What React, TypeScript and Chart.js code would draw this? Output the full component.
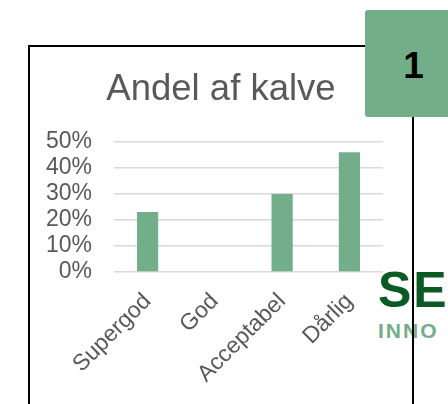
import React, { useEffect, useRef } from "react";
import { Chart, registerables } from "chart.js";

Chart.register(...registerables);

const categories = ["Supergod", "God", "Acceptabel", "Dårlig"];
const shares = [23, 0, 30, 46];
const yTicks = [0, 10, 20, 30, 40, 50];
const chartTitle = "Andel af kalve";
const badgeText = "1";
const logoTop = "SEG";
const logoBottom = "INNO";

const GREEN = "rgb(113,174,137)";
const GRAY_TEXT = "#595959";
const FONT = "Arial, 'Liberation Sans', sans-serif";

export default function App() {
  const canvasRef = useRef<HTMLCanvasElement | null>(null);

  useEffect(() => {
    const canvas = canvasRef.current;
    if (!canvas) return;
    const chart = new Chart(canvas, {
      type: "bar",
      data: {
        labels: categories,
        datasets: [
          {
            data: shares,
            backgroundColor: GREEN,
            borderWidth: 0,
            barPercentage: 0.9,
            categoryPercentage: 0.35,
          },
        ],
      },
      options: {
        animation: false,
        responsive: false,
        maintainAspectRatio: false,
        layout: { padding: 0 },
        plugins: {
          legend: { display: false },
          tooltip: { enabled: false },
          title: {
            display: true,
            text: chartTitle,
            color: GRAY_TEXT,
            font: { family: FONT, size: 36.5, weight: "normal" },
            padding: { top: 21, bottom: 30 },
          },
        },
        scales: {
          x: {
            grid: { display: false, drawTicks: false },
            border: { display: false },
            ticks: {
              color: GRAY_TEXT,
              font: { family: FONT, size: 23 },
              minRotation: 45,
              maxRotation: 45,
              padding: 16,
              autoSkip: false,
            },
            afterFit: (scale: any) => {
              scale.height = 132;
            },
          },
          y: {
            min: 0,
            max: 50,
            afterBuildTicks: (scale: any) => {
              scale.ticks = yTicks.map((v) => ({ value: v }));
            },
            grid: { color: "#d9d9d9", lineWidth: 1.5, drawTicks: false },
            border: { display: false },
            ticks: {
              color: GRAY_TEXT,
              font: { family: FONT, size: 23 },
              padding: 22,
              autoSkip: false,
              callback: (v: any) => v + "%",
            },
            afterFit: (scale: any) => {
              scale.width = 84;
            },
          },
          yRight: {
            position: "right",
            display: true,
            grid: { display: false, drawTicks: false },
            border: { display: false },
            ticks: { display: false },
            afterFit: (scale: any) => {
              scale.width = 29;
            },
          },
        },
      },
    });
    return () => chart.destroy();
  }, []);

  return (
    <div
      style={{
        position: "absolute",
        left: 0,
        top: 0,
        width: 448,
        height: 404,
        overflow: "hidden",
        background: "#fff",
      }}
    >
      <div
        style={{
          position: "absolute",
          left: 378,
          top: 265,
          fontFamily: FONT,
          fontWeight: "bold",
          lineHeight: 1,
          whiteSpace: "nowrap",
        }}
      >
        <div style={{ color: "#0b5a23", fontSize: 50, letterSpacing: 2, height: 50 }}>{logoTop}</div>
        <div style={{ color: GREEN, fontSize: 21, letterSpacing: 2, marginTop: 5 }}>{logoBottom}</div>
      </div>
      <div
        style={{
          position: "absolute",
          left: 28,
          top: 45,
          width: 382,
          height: 400,
          border: "2px solid #000",
        }}
      >
        <canvas
          ref={canvasRef}
          width={382}
          height={357}
          style={{ display: "block", width: 382, height: 357 }}
        />
      </div>
      <div
        style={{
          position: "absolute",
          left: 365,
          top: 10,
          width: 97,
          height: 107,
          background: GREEN,
          borderRadius: 3,
          display: "flex",
          alignItems: "flex-start",
          justifyContent: "center",
          boxSizing: "border-box",
          paddingTop: 37,
          fontFamily: FONT,
          fontWeight: "bold",
          fontSize: 37,
          lineHeight: 1,
          color: "#000",
        }}
      >
        {badgeText}
      </div>
    </div>
  );
}
